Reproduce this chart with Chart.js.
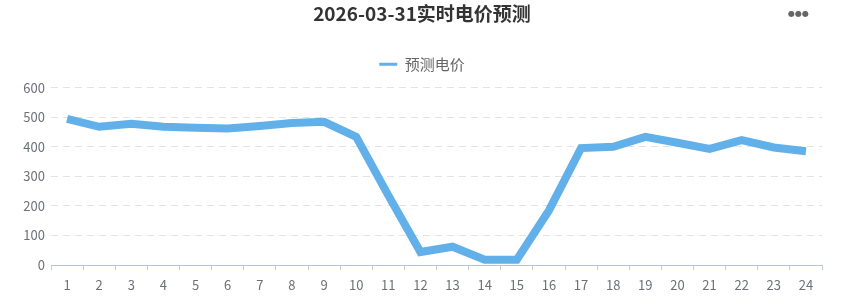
<!DOCTYPE html>
<html>
<head>
<meta charset="utf-8">
<script src="https://cdn.jsdelivr.net/npm/chart.js@4/dist/chart.umd.min.js"></script>
<style>
  body { margin: 0; background: #fff; }
  #wrap { position: relative; width: 844px; height: 304px; }
  #more { position: absolute; left: 788px; top: 9px; font: 8px "DejaVu Sans", sans-serif; color: #666; }
</style>
</head>
<body>
<div id="wrap">
  <canvas id="line-chart" width="844" height="304"></canvas>
  <span id="more">●●●</span>
</div>
<script>
// hours of the day
var hours = ['1','2','3','4','5','6','7','8','9','10','11','12','13','14','15','16','17','18','19','20','21','22','23','24'];
// forecast price
var prices = [495, 468, 478, 468, 465, 462, 471, 481, 485, 434, 236, 44, 62, 18, 18, 185, 396, 400, 434, 414, 393, 423, 398, 385];
var yTicks = [0, 100, 200, 300, 400, 500, 600];

var fontFamily = '"Noto Sans CJK SC", "Noto Sans", sans-serif';

// a bit more room under the legend, and center title/legend on the whole canvas
var headerFix = {
  id: 'headerFix',
  beforeInit: function(chart) {
    var fit = chart.legend.fit;
    chart.legend.fit = function() {
      fit.bind(chart.legend)();
      this.height += 6;
    };
  },
  afterLayout: function(chart) {
    var w = chart.width;
    [chart.legend, chart.titleBlock].forEach(function(b) {
      if (!b) return;
      b.left = 0;
      b.right = w;
      b.width = w;
    });
  }
};

new Chart(document.getElementById('line-chart'), {
  type: 'line',
  data: {
    labels: hours,
    datasets: [{
      label: '预测电价',
      data: prices,
      borderColor: '#62b0e9',
      backgroundColor: '#62b0e9',
      borderWidth: 8,
      pointRadius: 0,
      tension: 0,
      fill: false
    }]
  },
  plugins: [headerFix],
  options: {
    responsive: false,
    animation: false,
    layout: { padding: { left: 0, right: 22, top: 2, bottom: 0 } },
    plugins: {
      title: {
        display: true,
        text: '2026-03-31实时电价预测',
        color: '#333',
        font: { family: fontFamily, size: 19, weight: 'bold' },
        padding: { top: 0, bottom: 22 }
      },
      legend: {
        position: 'top',
        labels: {
          color: '#666',
          font: { family: fontFamily, size: 15 },
          boxWidth: 18,
          boxHeight: 3,
          padding: 10,
          generateLabels: function(chart) {
            var items = Chart.defaults.plugins.legend.labels.generateLabels(chart);
            items.forEach(function(it) { it.lineWidth = 0; });
            return items;
          }
        }
      },
      tooltip: { enabled: false }
    },
    scales: {
      x: {
        offset: true,
        afterFit: function(scale) { scale.height = 39; },
        grid: {
          offset: true,
          drawOnChartArea: false,
          drawTicks: true,
          tickLength: 5,
          color: '#c3cfe0'
        },
        border: { color: '#b4c3d8', width: 1 },
        ticks: {
          color: '#6e7079',
          font: { family: fontFamily, size: 13 },
          maxRotation: 0,
          autoSkip: false,
          padding: 7
        }
      },
      y: {
        min: 0,
        max: 600,
        afterFit: function(scale) { scale.width = 51; },
        afterBuildTicks: function(axis) {
          axis.ticks = yTicks.map(function(v) { return { value: v }; });
        },
        grid: {
          color: '#e3e3e3',
          drawTicks: false
        },
        border: { display: false, dash: [7, 5] },
        ticks: {
          color: '#6e7079',
          font: { family: fontFamily, size: 13 },
          padding: 6
        }
      }
    }
  }
});
</script>
</body>
</html>
